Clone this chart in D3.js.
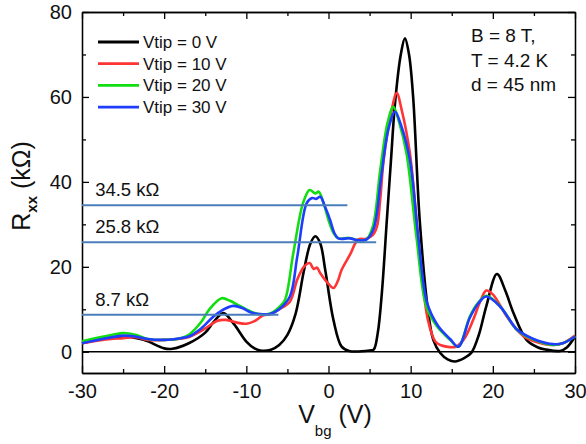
<!DOCTYPE html>
<html>
<head>
<meta charset="UTF-8">
<script src="https://cdn.jsdelivr.net/npm/d3@7"></script>
<style>
  body { margin: 0; background: #fff; }
  svg { font-family: "Liberation Sans", Arial, sans-serif; }
</style>
</head>
<body>
<svg width="586" height="444"></svg>
<script>
// Vtip = 0 V
let v0 = [-30, -27.5, -25, -22.5, -20, -19, -17, -15, -14, -12.8, -11.5, -10, -9, -8.3, -7, -6, -5, -4, -3, -2.2, -1.6, -1, -0.4, 0.6, 1.6, 2.5, 5, 5.5, 6, 6.5, 7.1, 7.6, 8.1, 8.8, 9.3, 9.8, 10.3, 11.1, 12.1, 12.75, 13.6, 14.5, 15.4, 16.5, 17.4, 18.3, 19.2, 20.5, 21.5, 22.5, 24.1, 25.5, 26.5, 28.2, 29, 30];
let r0 = [2.0, 3.0, 3.6, 2.8, 0.8, 0.7, 2.0, 4.5, 7.0, 9.1, 6.5, 2.4, 0.8, 0.3, 0.5, 1.6, 4, 9, 19, 25.5, 27.2, 25.5, 19.3, 7.5, 1.2, 0.2, 0.3, 0.5, 4.5, 14, 31, 45, 58.6, 70, 73.8, 70, 60, 31, 9.9, 2.8, -0.3, -1.8, -2.3, -1.5, -0.2, 4, 10.7, 18.3, 14.5, 9.2, 2.8, 1, 0.5, 0.2, 1, 3.6];
// Vtip = 10 V
let v10 = [-30, -27.5, -25, -23.5, -22, -20, -17, -15, -13.5, -12.5, -11, -10, -9, -8, -7, -6, -4.7, -3.8, -3, -2.3, -1.8, -1.4, -1, 0, 0.6, 1.1, 1.6, 2.6, 3.6, 4.6, 5.4, 5.9, 6.3, 6.7, 7.5, 8.3, 8.9, 9.9, 11.1, 12.1, 13, 13.6, 15.5, 16.5, 17.6, 18.5, 19.2, 20, 21.7, 23, 24.1, 27, 28.5, 30];
let r10 = [2.0, 2.8, 3.2, 3.4, 2.8, 2.8, 3.5, 5.5, 7.3, 7.5, 6.8, 6.6, 7.2, 8.5, 8.9, 10, 11.8, 17, 20, 20.9, 19.5, 19.8, 18.5, 16, 15, 16.5, 19.3, 22.8, 26.4, 26.6, 27.5, 29.5, 36, 45, 55, 60.9, 57, 46.8, 23, 7.5, 2.4, 1.6, 1.2, 3, 7.5, 12, 14.4, 13.5, 8.3, 5, 3.2, 1.6, 2, 3.8];
// Vtip = 20 V
let v20 = [-30, -27.5, -25, -23.5, -22, -20, -18, -17, -15.5, -14.5, -13, -12, -11, -10, -9, -8, -7, -6, -5.3, -4.3, -3.1, -2.3, -1.6, -1.2, -0.6, 0, 0.6, 1.2, 2.5, 3.5, 4.6, 5.4, 6.3, 7.2, 7.9, 8.6, 9.5, 10.7, 11.9, 13.2, 14.8, 15.8, 17.2, 18.2, 19.2, 20.9, 22.9, 24.1, 25.5, 27.3, 28.5, 30];
let r20 = [2.5, 3.5, 4.4, 4, 3, 2.8, 3.2, 4, 7, 10, 12.6, 12, 11, 10, 9.1, 8.8, 9.1, 10.5, 12.2, 23, 35, 38.1, 37.3, 37.7, 35, 31, 28, 26.7, 26.8, 26.3, 26.4, 29.5, 42.8, 54, 57.7, 54, 46.7, 27.1, 10.7, 6, 2.8, 1.2, 8.3, 11.5, 13.2, 10.7, 5.2, 3.6, 2.5, 1.6, 2, 3.6];
// Vtip = 30 V
let v30 = [-30, -27.5, -25, -23.5, -22, -20, -18, -17, -15.5, -14, -13, -11.6, -10.5, -9.5, -8.5, -7.1, -6, -4.7, -3.8, -2.65, -2, -1.5, -1, -0.4, 0.2, 0.7, 1.2, 2.6, 3.5, 4.6, 5.5, 6.4, 7.3, 8.1, 8.8, 9.9, 10.9, 12, 13.3, 14.8, 15.8, 17.2, 18.2, 19.2, 20.9, 22.9, 24.1, 25.5, 27.3, 28.5, 30];
let r30 = [2, 3, 3.8, 3.6, 3, 2.8, 3.2, 3.6, 5.5, 8.3, 9.7, 10.8, 10.3, 9.3, 8.9, 8.9, 10, 13, 22.4, 35, 36.2, 36, 36.5, 34, 31, 28, 26.7, 26.7, 26.3, 26.4, 29, 41, 52.5, 56.5, 53.5, 45.2, 27.5, 11.5, 6.2, 3, 1.2, 8, 11.3, 13, 10.6, 5.3, 3.8, 2.6, 1.8, 2, 3.6];

let seriesNames = ["Vtip = 0 V", "Vtip = 10 V", "Vtip = 20 V", "Vtip = 30 V"];
let seriesColors = ["#000000", "#ff3535", "#11dd11", "#1f3dff"];

// quantised resistance levels: value and where the line stops (Vbg)
let levels = [34.5, 25.8, 8.7];
let levelEnds = [2.3, 5.8, -6.1];
let levelLabels = ["34.5 kΩ", "25.8 kΩ", "8.7 kΩ"];

let xTicks = [-30, -20, -10, 0, 10, 20, 30];
let yTicks = [0, 20, 40, 60, 80];
let notes = ["B = 8 T,", "T = 4.2 K", "d = 45 nm"];

let svg = d3.select("svg");
let margin = { left: 82, right: 11, top: 12, bottom: 71 };
let width = 586, height = 444;

let x = d3.scaleLinear().domain([-30, 30]).range([margin.left, width - margin.right]);
let y = d3.scaleLinear().domain([-5, 80]).range([height - margin.bottom, margin.top]);

let data = [
  d3.zip(v0, r0),
  d3.zip(v10, r10),
  d3.zip(v20, r20),
  d3.zip(v30, r30)
];

// axes: ticks inside, on all four sides
let minorX = d3.range(-25, 30, 10);
let minorY = d3.range(10, 80, 20);
let plain = d => String(d); // hyphen minus like the original

function axisStyle(g) {
  g.select(".domain").attr("stroke", "#000").attr("stroke-width", 1.3);
  g.selectAll(".tick line").attr("stroke", "#000").attr("stroke-width", 1.3);
  g.selectAll(".tick text").attr("font-size", 20).attr("fill", "#111");
}

svg.append("g")
  .attr("transform", `translate(0,${y(-5)})`)
  .call(d3.axisBottom(x).tickValues(xTicks).tickFormat(plain).tickSize(-7).tickPadding(11).tickSizeOuter(0))
  .call(axisStyle);
svg.append("g")
  .attr("transform", `translate(0,${y(-5)})`)
  .call(d3.axisBottom(x).tickValues(minorX).tickSize(-4).tickFormat("").tickSizeOuter(0))
  .call(axisStyle);

svg.append("g")
  .attr("transform", `translate(${x(-30)},0)`)
  .call(d3.axisLeft(y).tickValues(yTicks).tickFormat(plain).tickSize(-7).tickPadding(10).tickSizeOuter(0))
  .call(axisStyle);
svg.append("g")
  .attr("transform", `translate(${x(-30)},0)`)
  .call(d3.axisLeft(y).tickValues(minorY).tickSize(-4).tickFormat("").tickSizeOuter(0))
  .call(axisStyle);

svg.append("g")
  .attr("transform", `translate(0,${y(80)})`)
  .call(d3.axisTop(x).tickValues(xTicks).tickSize(-7).tickFormat("").tickSizeOuter(0))
  .call(axisStyle);
svg.append("g")
  .attr("transform", `translate(0,${y(80)})`)
  .call(d3.axisTop(x).tickValues(minorX).tickSize(-4).tickFormat("").tickSizeOuter(0))
  .call(axisStyle);

svg.append("g")
  .attr("transform", `translate(${x(30)},0)`)
  .call(d3.axisRight(y).tickValues(yTicks).tickSize(-7).tickFormat("").tickSizeOuter(0))
  .call(axisStyle);
svg.append("g")
  .attr("transform", `translate(${x(30)},0)`)
  .call(d3.axisRight(y).tickValues(minorY).tickSize(-4).tickFormat("").tickSizeOuter(0))
  .call(axisStyle);

// zero line
svg.append("line")
  .attr("x1", x(-30)).attr("x2", x(30))
  .attr("y1", y(0)).attr("y2", y(0))
  .attr("stroke", "#000").attr("stroke-width", 1.3);

// curves
let line = d3.line()
  .x(d => x(d[0]))
  .y(d => y(d[1]))
  .curve(d3.curveCatmullRom.alpha(0.5));

svg.append("g")
  .selectAll("path")
  .data(data)
  .join("path")
  .attr("d", line)
  .attr("fill", "none")
  .attr("stroke", (d, i) => seriesColors[i])
  .attr("stroke-width", 2.6)
  .attr("stroke-linejoin", "round");

// quantised levels
let lv = svg.append("g");
lv.selectAll("line")
  .data(levels)
  .join("line")
  .attr("x1", x(-30))
  .attr("x2", (d, i) => x(levelEnds[i]))
  .attr("y1", d => y(d))
  .attr("y2", d => y(d))
  .attr("stroke", "#4a7ebb")
  .attr("stroke-width", 2);
lv.selectAll("text")
  .data(levels)
  .join("text")
  .attr("x", x(-28.4))
  .attr("y", d => y(d) - 9)
  .attr("font-size", 18.5)
  .attr("fill", "#111")
  .text((d, i) => levelLabels[i]);

// legend
let legend = svg.append("g");
let lg = legend.selectAll("g")
  .data(seriesNames)
  .join("g")
  .attr("transform", (d, i) => `translate(98,${42 + i * 21.7})`);
lg.append("line")
  .attr("x1", 0).attr("x2", 41)
  .attr("stroke", (d, i) => seriesColors[i])
  .attr("stroke-width", 2.8);
lg.append("text")
  .attr("x", 45).attr("y", 6)
  .attr("font-size", 17)
  .attr("fill", "#111")
  .text(d => d);

// conditions
svg.append("g")
  .selectAll("text")
  .data(notes)
  .join("text")
  .attr("x", 471)
  .attr("y", (d, i) => 42 + i * 24.5)
  .attr("font-size", 19)
  .attr("fill", "#111")
  .text(d => d);

// axis titles
let xt = svg.append("text")
  .attr("x", 335)
  .attr("y", 423)
  .attr("text-anchor", "middle")
  .attr("font-size", 25)
  .attr("fill", "#111");
xt.append("tspan").text("V");
xt.append("tspan").attr("font-size", 15).attr("dy", 13).text("bg");
xt.append("tspan").attr("dy", -13).text(" (V)");

let yt = svg.append("text")
  .attr("transform", `translate(30,186) rotate(-90)`)
  .attr("text-anchor", "middle")
  .attr("font-size", 25)
  .attr("fill", "#111");
yt.append("tspan").text("R");
yt.append("tspan").attr("font-size", 15).attr("font-weight", "bold").attr("dy", 7).text("xx");
yt.append("tspan").attr("dy", -7).text(" (kΩ)");
</script>
</body>
</html>
